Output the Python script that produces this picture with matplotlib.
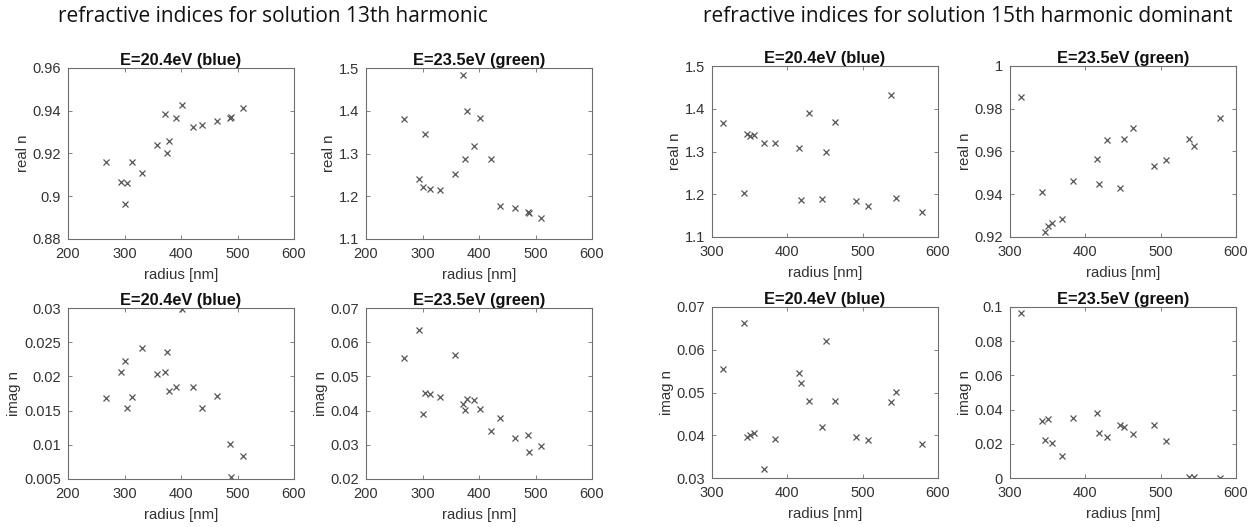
import numpy as np
import matplotlib.pyplot as plt
from matplotlib.ticker import FormatStrFormatter

# radii of the particles [nm]
r13 = [267, 293, 301, 304, 314, 331, 357, 372, 376, 378, 391, 401, 421, 438, 464, 487, 488, 510]
r15 = [314, 343, 347, 351, 356, 369, 384, 415, 418, 429, 446, 451, 463, 491, 507, 538, 544, 579]

# solution 13th harmonic
re13_blue = [0.9159, 0.9065, 0.8964, 0.9061, 0.9159, 0.9110, 0.9240, 0.9387, 0.9204,
             0.9257, 0.9368, 0.9426, 0.9323, 0.9334, 0.9350, 0.9368, 0.9372, 0.9415]
re13_green = [1.380, 1.240, 1.221, 1.345, 1.217, 1.215, 1.252, 1.484, 1.286,
              1.400, 1.318, 1.383, 1.286, 1.177, 1.173, 1.162, 1.160, 1.150]
im13_blue = [0.0169, 0.0206, 0.0222, 0.0154, 0.0170, 0.0241, 0.0204, 0.0206, 0.0235,
             0.0179, 0.0185, 0.0299, 0.0184, 0.0154, 0.0171, 0.0101, 0.0053, 0.0083]
im13_green = [0.0554, 0.0636, 0.0391, 0.0451, 0.0449, 0.0439, 0.0564, 0.0420, 0.0402,
              0.0434, 0.0432, 0.0406, 0.0339, 0.0377, 0.0321, 0.0328, 0.0280, 0.0296]

# solution 15th harmonic dominant
re15_blue = [1.366, 1.203, 1.340, 1.337, 1.338, 1.321, 1.321, 1.309, 1.187,
             1.389, 1.190, 1.298, 1.368, 1.184, 1.172, 1.433, 1.192, 1.158]
re15_green = [0.9853, 0.9412, 0.9225, 0.9250, 0.9267, 0.9284, 0.9460, 0.9565, 0.9446,
              0.9652, 0.9428, 0.9657, 0.9708, 0.9534, 0.9562, 0.9659, 0.9627, 0.9758]
im15_blue = [0.0556, 0.0663, 0.0395, 0.0401, 0.0405, 0.0320, 0.0392, 0.0546, 0.0522,
             0.0480, 0.0420, 0.0620, 0.0481, 0.0397, 0.0388, 0.0477, 0.0502, 0.0380]
im15_green = [0.0965, 0.0334, 0.0223, 0.0344, 0.0205, 0.0127, 0.0350, 0.0381, 0.0266,
              0.0242, 0.0311, 0.0297, 0.0256, 0.0312, 0.0219, 0.0008, 0.0008, 0.0000]

title_blue = 'E=20.4eV (blue)'
title_green = 'E=23.5eV (green)'

W, H = 1255, 527
fig = plt.figure(figsize=(W / 100, H / 100), dpi=100)
plt.rcParams['font.family'] = ['Liberation Sans', 'DejaVu Sans']

axcol = '#6e6e6e'
txtcol = '#333333'
mcol = '#555555'


def panel(px, py, r, vals, title, ylabel, xlim, ylim, yticks):
    # px, py: left/top corner in pixels, panels are 226x171 px
    ax = fig.add_axes([px / W, 1 - (py + 171) / H, 226 / W, 171 / H])
    ax.plot(r, vals, 'x', color=mcol, ms=4.5, mew=0.9)
    ax.set_xlim(xlim)
    ax.set_ylim(ylim)
    ax.set_xticks(np.arange(xlim[0], xlim[1] + 1, 100))
    ax.set_yticks(yticks)
    ax.yaxis.set_major_formatter(FormatStrFormatter('%g'))
    ax.tick_params(direction='in', top=True, right=True, length=3, width=0.6,
                   color=axcol, labelcolor=txtcol, labelsize=10.5)
    ax.tick_params(axis='x', pad=6)
    ax.tick_params(axis='y', pad=5)
    for s in ax.spines.values():
        s.set_color(axcol)
        s.set_linewidth(0.8)
    ax.set_title(title, fontsize=11.8, fontweight='bold', color='#111111', pad=2)
    ax.set_ylabel(ylabel, fontsize=10.8, color=txtcol, labelpad=2)
    ax.set_xlabel('radius [nm]', fontsize=10.8, color=txtcol, labelpad=5)
    return ax


# 13th harmonic
panel(68, 68, r13, re13_blue, title_blue, 'real n', (200, 600), (0.88, 0.96),
      np.arange(0.88, 0.961, 0.02))
panel(366, 68, r13, re13_green, title_green, 'real n', (200, 600), (1.1, 1.5),
      np.arange(1.1, 1.51, 0.1))
panel(68, 308, r13, im13_blue, title_blue, 'imag n', (200, 600), (0.005, 0.03),
      np.arange(0.005, 0.0301, 0.005))
panel(366, 308, r13, im13_green, title_green, 'imag n', (200, 600), (0.02, 0.07),
      np.arange(0.02, 0.0701, 0.01))

# 15th harmonic dominant
panel(712, 66, r15, re15_blue, title_blue, 'real n', (300, 600), (1.1, 1.5),
      np.arange(1.1, 1.51, 0.1))
panel(1010, 66, r15, re15_green, title_green, 'real n', (300, 600), (0.92, 1.0),
      np.arange(0.92, 1.001, 0.02))
panel(712, 307, r15, im15_blue, title_blue, 'imag n', (300, 600), (0.03, 0.07),
      np.arange(0.03, 0.0701, 0.01))
panel(1010, 307, r15, im15_green, title_green, 'imag n', (300, 600), (0.0, 0.1),
      np.arange(0.0, 0.101, 0.02))

fig.text(58 / W, 1 - 17 / H, 'refractive indices for solution 13th harmonic',
         fontsize=15, family='Open Sans', va='center', ha='left', color='#111111')
fig.text(703 / W, 1 - 17 / H, 'refractive indices for solution 15th harmonic dominant',
         fontsize=15, family='Open Sans', va='center', ha='left', color='#111111')

plt.savefig('out.png', dpi=100)
